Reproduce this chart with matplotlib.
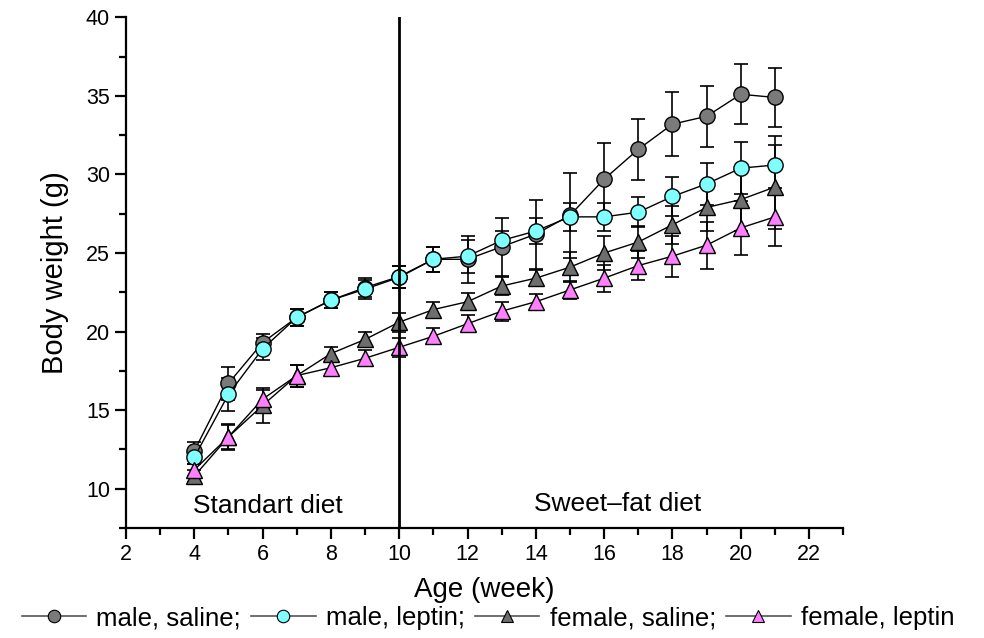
import numpy as np
import matplotlib
matplotlib.use("Agg")
import matplotlib.pyplot as plt
from matplotlib.ticker import MultipleLocator

plt.rcParams['font.family'] = ['Liberation Sans', 'DejaVu Sans']

# Data: age (week) and mean body weight (g) with error
weeks = [4, 5, 6, 7, 8, 9, 10, 11, 12, 13, 14, 15, 16, 17, 18, 19, 20, 21]

male_saline = [12.4, 16.7, 19.3, 20.9, 22.0, 22.8, 23.5, 24.6, 24.6, 25.4, 26.2, 27.4,
               29.7, 31.6, 33.2, 33.7, 35.1, 34.9]
male_saline_err = [0.55, 1.05, 0.55, 0.55, 0.5, 0.6, 0.7, 0.8, 1.5, 1.85, 2.2, 2.7,
                   2.27, 1.95, 2.05, 1.95, 1.9, 1.85]

male_leptin = [12.0, 16.0, 18.9, 20.9, 22.0, 22.7, 23.45, 24.6, 24.8, 25.8, 26.4, 27.3,
               27.3, 27.6, 28.6, 29.4, 30.4, 30.6]
male_leptin_err = [0.4, 1.05, 0.7, 0.55, 0.5, 0.6, 0.7, 0.8, 1.05, 0.6, 0.8, 0.9,
                   0.9, 0.95, 1.25, 1.35, 1.65, 1.85]

female_saline = [10.8, 13.3, 15.3, 17.2, 18.6, 19.5, 20.6, 21.4, 21.9, 22.9, 23.4, 24.1,
                 25.0, 25.7, 26.8, 27.9, 28.4, 29.2]
female_saline_err = [0.4, 0.75, 1.1, 0.7, 0.45, 0.5, 0.6, 0.5, 0.55, 0.6, 0.5, 0.95,
                     1.1, 1.0, 1.2, 1.5, 2.0, 2.7]

female_leptin = [11.2, 13.3, 15.7, 17.2, 17.7, 18.3, 19.0, 19.7, 20.5, 21.3, 21.9, 22.65,
                 23.4, 24.2, 24.8, 25.5, 26.6, 27.3]
female_leptin_err = [0.4, 0.85, 0.6, 0.7, 0.45, 0.5, 0.6, 0.5, 0.55, 0.6, 0.5, 0.6,
                     0.85, 0.9, 1.3, 1.5, 1.7, 1.85]

series = [
    ("male, saline;", male_saline, male_saline_err, 'o', '#7a7a7a'),
    ("male, leptin;", male_leptin, male_leptin_err, 'o', '#80ffff'),
    ("female, saline;", female_saline, female_saline_err, '^', '#6e6e6e'),
    ("female, leptin", female_leptin, female_leptin_err, '^', '#ff80ff'),
]

fig = plt.figure(figsize=(9.84, 6.38), dpi=100)
ax = fig.add_axes([0.128, 0.1724, 0.729, 0.8005])

for label, vals, err, mk, col in series:
    ax.errorbar(weeks, vals, yerr=err, fmt='none', ecolor='black', elinewidth=1.2,
                capsize=5, capthick=1.2, zorder=2)
    ax.plot(weeks, vals, color='black', linewidth=1.0, marker=mk, markersize=11,
            markerfacecolor=col, markeredgecolor='black', markeredgewidth=1.0,
            zorder=3)

# diet switch line
ax.axvline(10, color='black', linewidth=2, zorder=4)

ax.text(6.15, 8.9, "Standart diet", fontsize=19, ha='center', va='center')
ax.text(16.4, 9.0, "Sweet\u2013fat diet", fontsize=19, ha='center', va='center')

ax.set_xlim(2, 23)
ax.set_ylim(7.5, 40)
ax.xaxis.set_major_locator(MultipleLocator(2))
ax.xaxis.set_minor_locator(MultipleLocator(1))
ax.yaxis.set_minor_locator(MultipleLocator(2.5))
ax.set_yticks([10, 15, 20, 25, 30, 35, 40])

for s in ['top', 'right']:
    ax.spines[s].set_visible(False)
for s in ['left', 'bottom']:
    ax.spines[s].set_linewidth(1.6)

ax.tick_params(which='major', direction='out', length=8, width=1.6, labelsize=15.5)
ax.tick_params(which='minor', direction='out', length=5, width=1.6)

ax.set_xlabel("Age (week)", fontsize=20, labelpad=9)
ax.set_ylabel("Body weight (g)", fontsize=21, labelpad=12)

handles = []
for label, vals, err, mk, col in series:
    h, = ax.plot([], [], color='#555555', linewidth=1.2, marker=mk, markersize=9,
                 markerfacecolor=col, markeredgecolor='black', markeredgewidth=0.8,
                 label=label)
    handles.append(h)

fig.legend(handles=handles, loc='center', bbox_to_anchor=(0.496, 0.031), ncol=4,
           frameon=False, fontsize=18.5, handlelength=2.5, handletextpad=0.4,
           columnspacing=0.4, borderaxespad=0)

fig.savefig("out.png", dpi=100)
